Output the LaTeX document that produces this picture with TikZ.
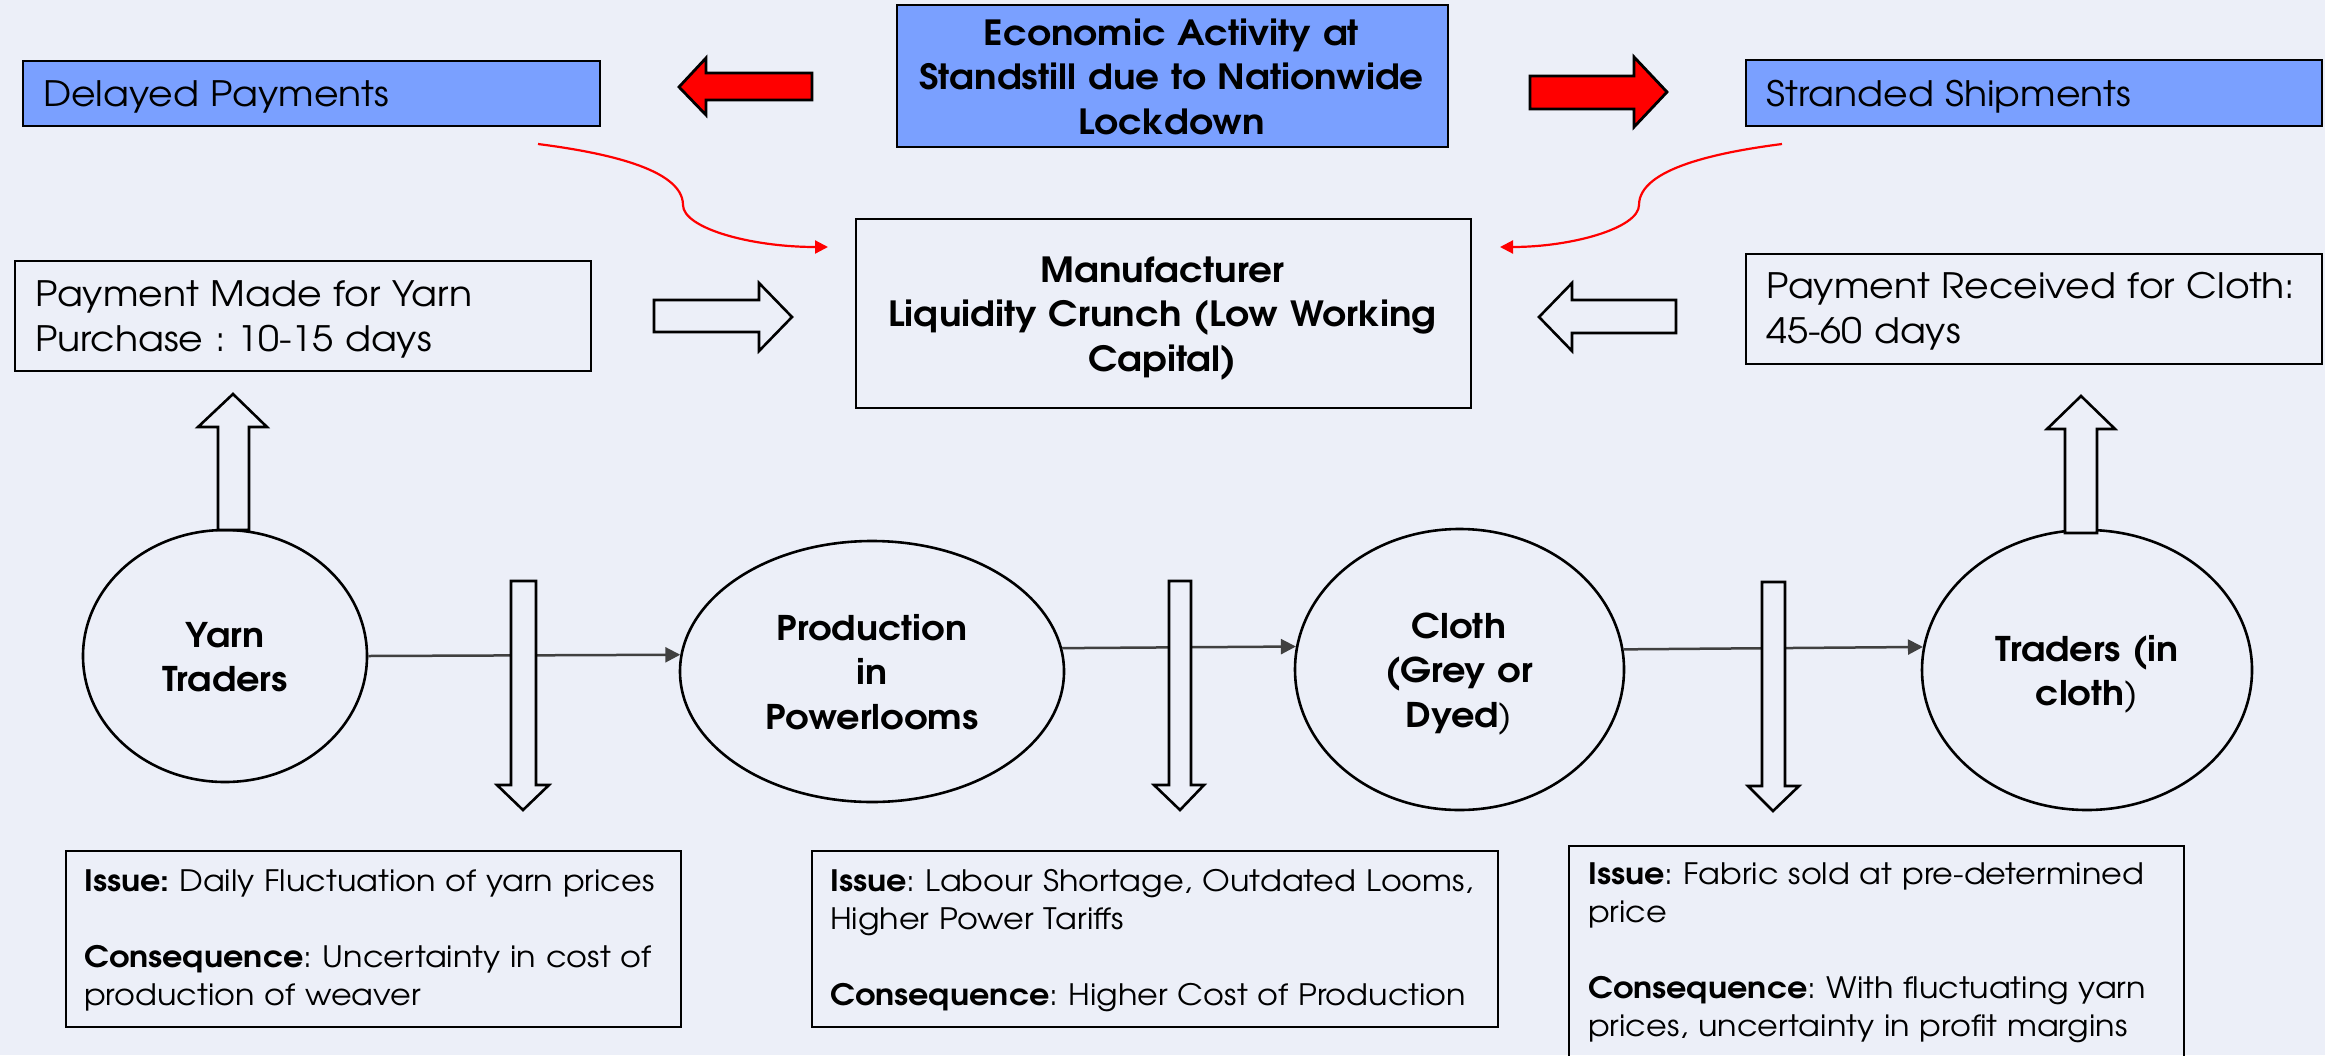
\documentclass[tikz,border=0pt]{standalone}
\usepackage{fontspec}
\setmainfont{TeX Gyre Adventor}[WordSpace=1.5, FakeStretch=1.08]
\usetikzlibrary{arrows.meta,shapes.geometric}
\frenchspacing
\definecolor{bg}{RGB}{236,239,248}
\definecolor{boxblue}{RGB}{122,160,255}
\definecolor{conn}{RGB}{64,64,64}
\newcommand\fbig{\fontsize{35}{45}\selectfont}
\newcommand\fhead{\fontsize{34.7}{44.5}\selectfont\bfseries}
\newcommand\fell{\fontsize{34}{44.5}\selectfont\bfseries}
\newcommand\fiss{\fontsize{29.5}{38}\selectfont}
\begin{document}
\begin{tikzpicture}[x=1pt,y=-1pt,
  box/.style={draw=black, line width=2pt, rectangle, inner sep=0pt, anchor=north west},
  bluebox/.style={box, fill=boxblue},
  plainbox/.style={box},
  issuebox/.style={draw=black, line width=1.8pt, rectangle, inner sep=0pt, anchor=north west},
  ltext/.style={inner sep=0pt, anchor=base west, text width=700pt, align=left},
  ctext/.style={inner sep=0pt, anchor=base, text width=700pt, align=center},
  oval/.style={draw=black, line width=2.6pt, ellipse, inner sep=0pt, fill=bg},
  redblock/.style={draw=black, line width=2.8pt, fill=red, line join=miter},
  whiteblock/.style={draw=black, line width=2.6pt, fill=bg, line join=miter},
  flow/.style={draw=conn, line width=2.5pt, -{Triangle[length=15pt,width=15pt]}},
  redcurve/.style={draw=red, line width=2.2pt, -{Triangle[length=13pt,width=13pt]}}
]
\useasboundingbox (0,0) rectangle (2325,1055);
\fill[bg] (0,0) rectangle (2325,1055);

% top boxes
\node[bluebox, minimum width=577pt, minimum height=65pt] (dp) at (22,60) {};
\node[ltext, font=\fbig] (dpT) at (43,106) {Delayed Payments};
\node[bluebox, minimum width=576pt, minimum height=66pt] (ss) at (1745,59) {};
\node[ltext, font=\fbig] (ssT) at (1766,106) {Stranded Shipments};
\node[bluebox, minimum width=551pt, minimum height=142pt] (eco) at (896,4) {};
\node[ctext, font=\fhead] (ecoT) at (1171.5,45) {Economic Activity at\\Standstill due to Nationwide\\Lockdown};

\node[plainbox, minimum width=576pt, minimum height=110pt] (pm) at (14,260) {};
\node[ltext, font=\fbig] (pmT) at (35,306) {Payment Made for Yarn\\Purchase : 10-15 days};
\node[plainbox, minimum width=576pt, minimum height=110pt] (pr) at (1745,253) {};
\node[ltext, font=\fbig] (prT) at (1766,298) {Payment Received for Cloth:\\45-60 days};
\node[plainbox, minimum width=615pt, minimum height=189pt] (man) at (855,218) {};
\node[ctext, font=\fhead] (manT) at (1162.5,282) {Manufacturer\\Liquidity Crunch (Low Working\\Capital)};

% red block arrows
\draw[redblock] (812,73) -- (706,73) -- (706,58) -- (679,87) -- (706,115) -- (706,100) -- (812,100) -- cycle;
\draw[redblock] (1530,76) -- (1634,76) -- (1634,57) -- (1667,92) -- (1634,127) -- (1634,109) -- (1530,109) -- cycle;

% white block arrows towards manufacturer
\draw[whiteblock] (654,300) -- (759,300) -- (759,283) -- (792,317) -- (759,351) -- (759,332) -- (654,332) -- cycle;
\draw[whiteblock] (1676,300) -- (1572,300) -- (1572,283) -- (1539,317) -- (1572,351) -- (1572,333) -- (1676,333) -- cycle;

% red curved arrows
\coordinate (dpc) at (538,144);
\coordinate (dpe) at (828,247);
\coordinate (ssc) at (1782,144);
\coordinate (sse) at (1500,247);
\draw[redcurve] (dpc) .. controls (600,152) and (683,168) .. (683,205) .. controls (683,228) and (750,247) .. (dpe);
\draw[redcurve] (ssc) .. controls (1720,152) and (1639,168) .. (1639,205) .. controls (1639,228) and (1572,247) .. (sse);

% ellipses
\node[oval, minimum width=284pt, minimum height=252pt] (yarn) at (225,656) {};
\node[oval, minimum width=384pt, minimum height=261pt] (prod) at (872,671.5) {};
\node[oval, minimum width=329pt, minimum height=281pt] (cloth) at (1459.5,669.5) {};
\node[oval, minimum width=330pt, minimum height=280pt] (trad) at (2087,670) {};
\node[ctext, font=\fell] (yarnT) at (225,647) {Yarn\\Traders};
\node[ctext, font=\fell] (prodT) at (872,640) {Production\\in\\Powerlooms};
\node[ctext, font=\fell] (clothT) at (1459,638) {Cloth\\(Grey or\\Dyed{\mdseries )}};
\node[ctext, font=\fell] (tradT) at (2087,661) {Traders (in\\cloth{\mdseries )}};

% flow connectors
\draw[flow] (yarn.east) -- (prod.175.3);
\draw[flow] (prod.7.1) -- (cloth.172.5);
\draw[flow] (cloth.7.5) -- (trad.172.3);

% up arrows
\draw[whiteblock] (218,530) -- (218,427) -- (198,427) -- (233,394) -- (267,427) -- (249,427) -- (249,530) -- cycle;
\draw[whiteblock] (2065,533) -- (2065,429) -- (2047,429) -- (2081,396) -- (2115,429) -- (2097,429) -- (2097,533) -- cycle;

% down arrows
\draw[whiteblock] (511,581) -- (536,581) -- (536,785) -- (549,785) -- (523,810) -- (497,785) -- (511,785) -- cycle;
\draw[whiteblock] (1169,581) -- (1191,581) -- (1191,785) -- (1204,785) -- (1180,810) -- (1154,785) -- (1169,785) -- cycle;
\draw[whiteblock] (1762,582) -- (1785,582) -- (1785,786) -- (1799,786) -- (1773,811) -- (1748,786) -- (1762,786) -- cycle;

% issue boxes
\node[issuebox, minimum width=615pt, minimum height=176pt] (is1) at (65,850) {};
\node[ltext, font=\fiss] (is1T) at (84,891) {\textbf{Issue:} Daily Fluctuation of yarn prices\\[38pt]\textbf{Consequence}: Uncertainty in cost of\\production of weaver};
\node[issuebox, minimum width=686pt, minimum height=176pt] (is2) at (811,850) {};
\node[ltext, font=\fiss] (is2T) at (830,891) {\textbf{Issue}: Labour Shortage, Outdated Looms,\\Higher Power Tariffs\\[38pt]\textbf{Consequence}: Higher Cost of Production};
\node[issuebox, minimum width=615pt, minimum height=240pt] (is3) at (1568,845) {};
\node[ltext, font=\fiss] (is3T) at (1588,884) {\textbf{Issue}: Fabric sold at pre-determined\\price\\[38pt]\textbf{Consequence}: With fluctuating yarn\\prices, uncertainty in profit margins};
\end{tikzpicture}
\end{document}
